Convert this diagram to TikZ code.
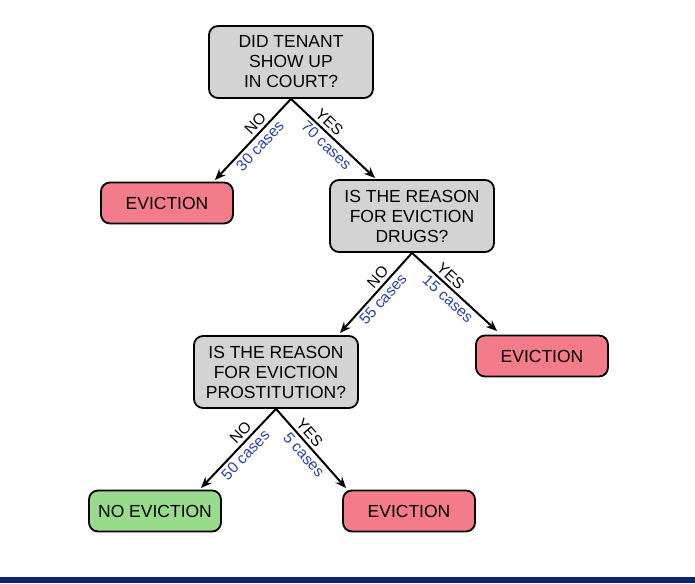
\documentclass[tikz,border=0pt]{standalone}
\usepackage{fontspec}
\setmainfont{Liberation Sans}
\usetikzlibrary{arrows.meta}
\begin{document}
\begin{tikzpicture}[x=1pt,y=-1pt,
 box/.style={draw=black,line width=1.8pt,rounded corners=9pt,align=center,font=\fontsize{17.5}{20}\selectfont,inner sep=0pt},
 q/.style={box,fill=qgray,minimum width=164pt,minimum height=72pt},
 ev/.style={box,fill=evred,minimum width=132pt,minimum height=41pt},
 nev/.style={box,fill=nevgreen,minimum width=132pt,minimum height=41pt},
 arr/.style={-{Stealth[length=11pt,width=9pt]},line width=2pt},
 lab/.style={font=\fontsize{15.5}{16}\selectfont,inner sep=3pt},
 cnt/.style={lab,text=cblue}]
\definecolor{qgray}{RGB}{211,211,211}
\definecolor{evred}{RGB}{244,124,138}
\definecolor{nevgreen}{RGB}{152,219,138}
\definecolor{cblue}{RGB}{45,65,170}
\definecolor{bar}{RGB}{13,34,112}
\useasboundingbox (0,0) rectangle (695,583);
\fill[white] (0,0) rectangle (695,583);
\fill[bar] (0,577) rectangle (695,583);
\node[q] (q1) at (291,62) {DID TENANT\\SHOW UP\\IN COURT?};
\node[ev] (e1) at (167,203) {EVICTION};
\node[q] (q2) at (412,216) {IS THE REASON\\FOR EVICTION\\DRUGS?};
\node[ev] (e2) at (542,356) {EVICTION};
\node[q] (q3) at (276,372) {IS THE REASON\\FOR EVICTION\\PROSTITUTION?};
\node[nev] (ne) at (155,511) {NO EVICTION};
\node[ev] (e3) at (409,511) {EVICTION};
\coordinate (a1) at (215,180); \coordinate (b1) at (375,178);
\coordinate (a2) at (340,333); \coordinate (b2) at (497,331);
\coordinate (a3) at (201,488); \coordinate (b3) at (346,488);
\draw[arr] (q1.south) -- node[lab,sloped,above,pos=0.38]{NO} node[cnt,sloped,below,pos=0.5]{30 cases} (a1);
\draw[arr] (q1.south) -- node[lab,sloped,above,pos=0.38]{YES} node[cnt,sloped,below,pos=0.5]{70 cases} (b1);
\draw[arr] (q2.south) -- node[lab,sloped,above,pos=0.38]{NO} node[cnt,sloped,below,pos=0.5]{55 cases} (a2);
\draw[arr] (q2.south) -- node[lab,sloped,above,pos=0.38]{YES} node[cnt,sloped,below,pos=0.5]{15 cases} (b2);
\draw[arr] (q3.south) -- node[lab,sloped,above,pos=0.38]{NO} node[cnt,sloped,below,pos=0.5]{50 cases} (a3);
\draw[arr] (q3.south) -- node[lab,sloped,above,pos=0.38]{YES} node[cnt,sloped,below,pos=0.5]{5 cases} (b3);
\end{tikzpicture}
\end{document}
